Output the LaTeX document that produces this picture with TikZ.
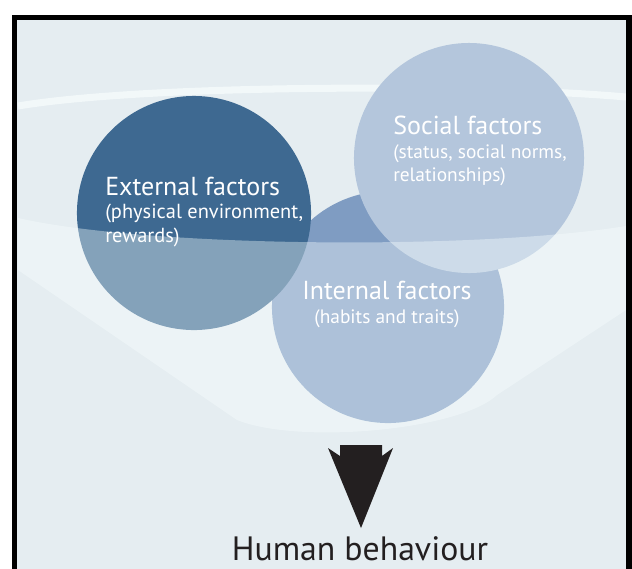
\documentclass[tikz,border=0pt]{standalone}
\usepackage{fontspec}
\setmainfont{PT Sans}
\usetikzlibrary{positioning}
\definecolor{bgcol}{HTML}{E5EDF1}
\definecolor{rimcol}{HTML}{F2F8F9}
\definecolor{extcol}{HTML}{3E6991}
\definecolor{intcol}{HTML}{7F9CC2}
\definecolor{soccol}{HTML}{B4C6DC}
\definecolor{wallcol}{HTML}{F8FFFF}
\definecolor{inkcol}{HTML}{231F20}

\begin{document}
\begin{tikzpicture}
	[x=0.025cm, y=-0.025cm,
	 factor/.style={circle, inner sep=0pt},
	 title/.style={anchor=base west, text=white, inner sep=0pt, font=\fontsize{18.5}{22}\selectfont},
	 sub/.style={anchor=base west, text=white, inner sep=0pt, font=\fontsize{13.8}{16}\selectfont}]
	\useasboundingbox (0,0) rectangle (632,568);
	\fill[bgcol] (14,17) rectangle (629,600);
	% back rim of the bowl
	\draw[rimcol, line width=5pt] (18,106) .. controls (150,84) and (480,84) .. (626,97);
	% the three circles
	\node[factor, fill=intcol, minimum size=5.8cm] (int) at (388,307) {};
	\node[factor, fill=extcol, minimum size=5.85cm] (ext) at (194,213) {};
	\node[factor, fill=soccol, minimum size=5.75cm] (soc) at (469,158) {};
	% front wall of the bowl
	\fill[wallcol, fill opacity=0.38] (18,218) .. controls (150,248) and (480,250) .. (626,226)
		-- (626,310) -- (497,395) .. controls (460,430) and (300,445) .. (237,420) -- (18,270) -- cycle;
	% labels
	\node[title] (ext1) at (105,195) {External factors};
	\node[sub, font=\fontsize{14.5}{17}\selectfont] (ext2) at (105,218) {(physical environment,};
	\node[sub, font=\fontsize{14.5}{17}\selectfont] (ext3) at (105,242) {rewards)};
	\node[title] (soc1) at (393,134) {Social factors};
	\node[sub] (soc2) at (393,158) {(status, social norms,};
	\node[sub] (soc3) at (393,181) {relationships)};
	\node[title, anchor=base] (int1) at (387,299) {Internal factors};
	\node[sub, anchor=base] (int2) at (387,323) {(habits and traits)};
	% arrow and result
	\fill[inkcol] (340,445) -- (382,445) -- (382,456) -- (393,448) -- (361,528)
		-- (328,448) -- (340,456) -- cycle;
	\node[anchor=base, text=inkcol, inner sep=0pt, font=\fontsize{24}{28}\selectfont] (hum) at (360,560) {Human behaviour};
	\draw[black, line width=3.6pt] (14.5,17.5) rectangle (629,620);
\end{tikzpicture}
\end{document}
